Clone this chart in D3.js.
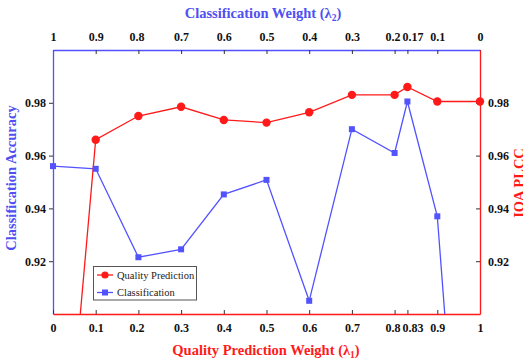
<!DOCTYPE html>
<html>
<head>
<meta charset="utf-8">
<script src="https://cdn.jsdelivr.net/npm/d3@7"></script>
<style>
  html, body { margin: 0; padding: 0; background: #fff; }
  svg { display: block; }
</style>
</head>
<body>
<svg id="chart" width="523" height="363"></svg>
<script>
// Quality prediction weight (λ1) for each run; classification weight λ2 = 1 - λ1
const lambda1 = [0, 0.1, 0.2, 0.3, 0.4, 0.5, 0.6, 0.7, 0.8, 0.83, 0.9, 1.0];
const qualityPLCC = [0.783, 0.966, 0.975, 0.9785, 0.9735, 0.9725, 0.9764, 0.983, 0.983, 0.986, 0.9805, 0.9805];
const classAccuracy = [0.956, 0.955, 0.9215, 0.9245, 0.9453, 0.9508, 0.905, 0.970, 0.961, 0.9805, 0.937, 0.725];

const bottomTicks = [0, 0.1, 0.2, 0.3, 0.4, 0.5, 0.6, 0.7, 0.8, 0.83, 0.9, 1];
const topTicks = [1, 0.9, 0.8, 0.7, 0.6, 0.5, 0.4, 0.3, 0.2, 0.17, 0.1, 0];
const yTicks = [0.92, 0.94, 0.96, 0.98];

const RED = "#ff1a1a";
const BLUE = "#5252ff";
const BLUE_TEXT = "#4f4ff2";
const SERIF = "Liberation Serif, DejaVu Serif, Times New Roman, serif";

const svg = d3.select("#chart");
const L = 53, R = 480, T = 50, B = 314;

const x = d3.scaleLinear().domain([0, 1]).range([L, R]);
const x2 = d3.scaleLinear().domain([1, 0]).range([L, R]);
const yL = d3.scaleLinear().domain([0.90, 1.00]).range([B, T]);
const yR = d3.scaleLinear().domain([0.90, 1.00]).range([B, T]);

svg.append("defs").append("clipPath").attr("id", "plot-clip")
  .append("rect").attr("x", L).attr("y", T).attr("width", R - L).attr("height", B - T);

const fmt = d => String(d);

// Axes
const bottomAxis = d3.axisBottom(x).tickValues(bottomTicks).tickFormat(fmt)
  .tickSizeInner(-4).tickSizeOuter(0).tickPadding(9);
const topAxis = d3.axisTop(x2).tickValues(topTicks).tickFormat(fmt)
  .tickSizeInner(-4).tickSizeOuter(0).tickPadding(9);
const leftAxis = d3.axisLeft(yL).tickValues(yTicks).tickFormat(d3.format(".2f"))
  .tickSizeInner(4).tickSizeOuter(0).tickPadding(3);
const rightAxis = d3.axisRight(yR).tickValues(yTicks).tickFormat(d3.format(".2f"))
  .tickSizeInner(-4).tickSizeOuter(0).tickPadding(8);

// small label nudges where two ticks sit close together
const nudge = { 0.8: -2, 0.83: 5, 0.2: -2, 0.17: 5 };

function styleAxis(g, lineColor, nudgeLabels) {
  g.attr("font-family", SERIF);
  g.select(".domain").attr("stroke", lineColor).attr("stroke-width", 1.3);
  g.selectAll(".tick line").attr("stroke", "#333").attr("stroke-width", 1);
  g.selectAll(".tick text")
    .attr("fill", "#111")
    .attr("font-family", SERIF)
    .attr("font-weight", "bold")
    .attr("font-size", "12px")
    .attr("dx", d => (nudgeLabels && nudge[d] !== undefined) ? nudge[d] : 0);
}

svg.append("g").attr("transform", `translate(0,${T})`).call(topAxis).call(g => styleAxis(g, BLUE, true));
svg.append("g").attr("transform", `translate(${L},0)`).call(leftAxis).call(g => styleAxis(g, BLUE, false));
svg.append("g").attr("transform", `translate(0,${B})`).call(bottomAxis).call(g => styleAxis(g, RED, true));
svg.append("g").attr("transform", `translate(${R},0)`).call(rightAxis).call(g => styleAxis(g, RED, false));

// Series
const plot = svg.append("g").attr("clip-path", "url(#plot-clip)");

const lineQ = d3.line().x((d, i) => x(lambda1[i])).y(d => yR(d));
const lineC = d3.line().x((d, i) => x(lambda1[i])).y(d => yL(d));

plot.append("path").datum(classAccuracy).attr("d", lineC)
  .attr("fill", "none").attr("stroke", BLUE).attr("stroke-width", 1.3);
plot.append("path").datum(qualityPLCC).attr("d", lineQ)
  .attr("fill", "none").attr("stroke", RED).attr("stroke-width", 1.3);

const markers = svg.append("g");
const sq = 6;
markers.selectAll("rect.c").data(classAccuracy.map((v, i) => [lambda1[i], v]).filter(d => d[1] >= 0.90))
  .join("rect").attr("class", "c")
  .attr("x", d => x(d[0]) - sq / 2).attr("y", d => yL(d[1]) - sq / 2)
  .attr("width", sq).attr("height", sq).attr("fill", BLUE);
markers.selectAll("circle.q").data(qualityPLCC.map((v, i) => [lambda1[i], v]).filter(d => d[1] >= 0.90))
  .join("circle").attr("class", "q")
  .attr("cx", d => x(d[0])).attr("cy", d => yR(d[1])).attr("r", 4.2).attr("fill", RED);

// Titles
function title(sel) {
  return sel.attr("font-family", SERIF).attr("font-weight", "bold").attr("font-size", "14.5px");
}
title(svg.append("text")).attr("x", 263).attr("y", 18).attr("text-anchor", "middle")
  .attr("fill", BLUE_TEXT)
  .html('Classification Weight (λ<tspan font-size="9.5px" dy="3">2</tspan><tspan dy="-3">)</tspan>');
title(svg.append("text")).attr("x", 266).attr("y", 355).attr("text-anchor", "middle")
  .attr("fill", RED)
  .html('Quality Prediction Weight (λ<tspan font-size="9.5px" dy="3">1</tspan><tspan dy="-3">)</tspan>');
title(svg.append("text")).attr("transform", "translate(16,178) rotate(-90)").attr("text-anchor", "middle")
  .attr("fill", BLUE_TEXT)
  .text("Classification  Accuracy");
title(svg.append("text")).attr("transform", "translate(524,183) rotate(-90)").attr("text-anchor", "middle")
  .attr("fill", RED)
  .text("IQA PLCC");

// Legend
const leg = svg.append("g");
leg.append("rect").attr("x", 93.5).attr("y", 266.5).attr("width", 103).attr("height", 33.5)
  .attr("fill", "#fff").attr("stroke", "#555").attr("stroke-width", 1);
const entries = [
  { name: "Quality Prediction", color: RED, shape: "circle" },
  { name: "Classification", color: BLUE, shape: "square" }
];
entries.forEach((e, i) => {
  const cy = 275 + i * 17.5;
  leg.append("line").attr("x1", 97).attr("x2", 113).attr("y1", cy).attr("y2", cy)
    .attr("stroke", e.color).attr("stroke-width", 1.3);
  if (e.shape === "circle") {
    leg.append("circle").attr("cx", 105).attr("cy", cy).attr("r", 3.6).attr("fill", e.color);
  } else {
    leg.append("rect").attr("x", 102).attr("y", cy - 3).attr("width", 6).attr("height", 6).attr("fill", e.color);
  }
  leg.append("text").attr("x", 117).attr("y", cy + 3.5).attr("fill", "#222")
    .attr("font-family", SERIF).attr("font-size", "10.5px").text(e.name);
});
</script>
</body>
</html>
